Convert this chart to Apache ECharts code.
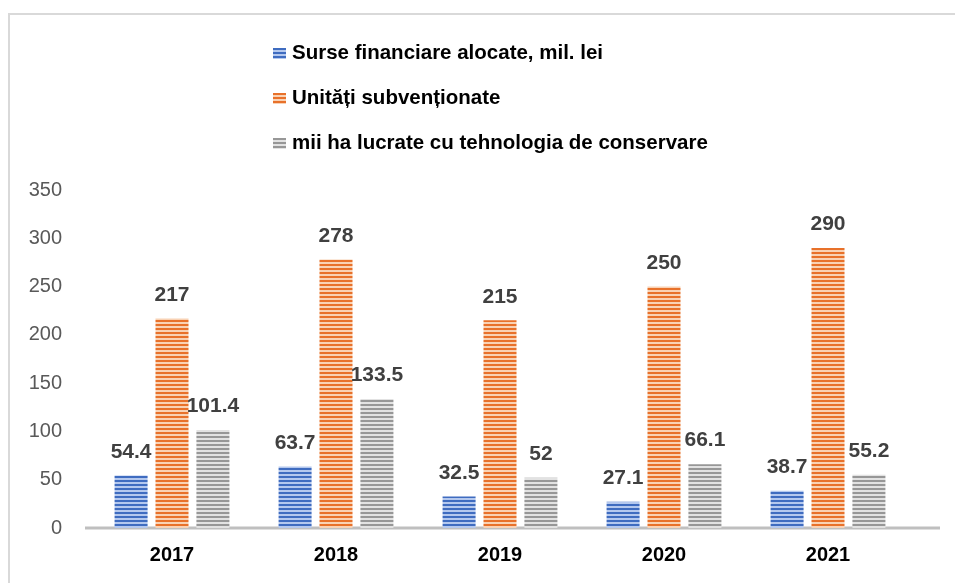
<!DOCTYPE html>
<html>
<head>
<meta charset="utf-8">
<script src="https://cdn.jsdelivr.net/npm/echarts@6/dist/echarts.min.js"></script>
<style>
  html, body { margin: 0; padding: 0; background: #fff; }
  #chart { width: 955px; height: 583px; }
</style>
</head>
<body>
<div id="chart"></div>
<script>
const years = ["2017", "2018", "2019", "2020", "2021"];
const fonduri = [54.4, 63.7, 32.5, 27.1, 38.7];
const unitati = [217, 278, 215, 250, 290];
const hectare = [101.4, 133.5, 52, 66.1, 55.2];
const seriesNames = [
  "Surse financiare alocate, mil. lei",
  "Unități subvenționate",
  "mii ha lucrate cu tehnologia de conservare"
];

// striped fill like the office "horizontal lines" pattern
function stripes(dark, light) {
  const c = document.createElement("canvas");
  c.width = 8;
  c.height = 4;
  const ctx = c.getContext("2d");
  ctx.fillStyle = light;
  ctx.fillRect(0, 0, 8, 4);
  ctx.fillStyle = dark;
  ctx.fillRect(0, 0, 8, 2);
  return { image: c, repeat: "repeat" };
}

const chart = echarts.init(document.getElementById("chart"));
const font = "'Liberation Sans', Arial, sans-serif";

function barSeries(name, data, dark, light) {
  return {
    name: name,
    type: "bar",
    data: data,
    barWidth: 33,
    barGap: "24%",
    itemStyle: { color: stripes(dark, light) },
    label: {
      show: true,
      position: "top",
      distance: 13,
      color: "#404040",
      fontWeight: "bold",
      fontSize: 21,
      fontFamily: font
    }
  };
}

chart.setOption({
  backgroundColor: "#fff",
  animation: false,
  textStyle: { fontFamily: font },
  graphic: [
    {
      type: "polyline",
      shape: { points: [[9, 583], [9, 14], [955, 14]] },
      style: { stroke: "#d9d9d9", lineWidth: 2, fill: null }
    },
    {
      type: "line",
      shape: { x1: 85, y1: 528, x2: 940, y2: 528 },
      style: { stroke: "#bfbfbf", lineWidth: 3 }
    }
  ],
  legend: {
    orient: "vertical",
    left: 268,
    top: 38,
    itemWidth: 13,
    itemHeight: 11,
    itemGap: 24,
    icon: "rect",
    selectedMode: false,
    textStyle: { color: "#000", fontWeight: "bold", fontSize: 20.5, lineHeight: 21, fontFamily: font, padding: [0, 0, 0, 1] },
    data: seriesNames
  },
  grid: { left: 90, right: 45, top: 190, bottom: 55 },
  xAxis: {
    type: "category",
    data: years,
    axisLine: { show: false },
    axisTick: { show: false },
    axisLabel: { color: "#000", fontWeight: "bold", fontSize: 20, margin: 17 }
  },
  yAxis: {
    type: "value",
    min: 0,
    max: 350,
    interval: 50,
    axisLine: { show: false },
    axisTick: { show: false },
    splitLine: { show: false },
    axisLabel: { color: "#595959", fontSize: 20, margin: 28 }
  },
  series: [
    barSeries(seriesNames[0], fonduri, "#3f6cc0", "#b4c8ee"),
    barSeries(seriesNames[1], unitati, "#e8712a", "#f9d2b4"),
    barSeries(seriesNames[2], hectare, "#979797", "#e2e2e2")
  ]
});
</script>
</body>
</html>
